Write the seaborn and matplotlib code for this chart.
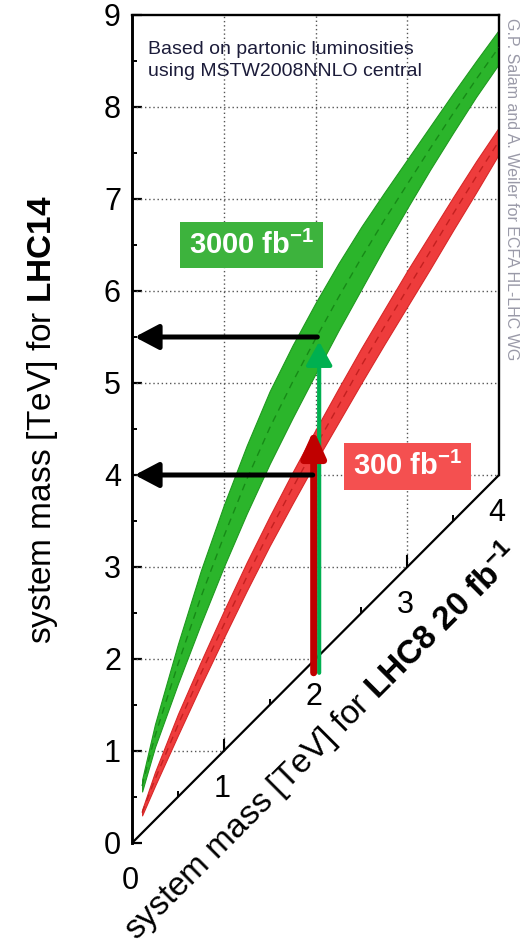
import numpy as np
import matplotlib
matplotlib.use("Agg")
import matplotlib.pyplot as plt
import seaborn as sns

# ---------------- data ----------------
m8 = [0.11, 0.25, 0.5, 0.75, 1.0, 1.25, 1.5, 1.75, 2.0, 2.25, 2.5, 2.75, 3.0, 3.25, 3.5, 3.75, 4.0]
green_upper   = [0.69, 1.29, 2.16, 2.96, 3.67, 4.32, 4.91, 5.41, 5.87, 6.30, 6.70, 7.07, 7.43, 7.79, 8.15, 8.50, 8.84]
green_lower   = [0.56, 1.04, 1.73, 2.38, 3.00, 3.58, 4.12, 4.62, 5.10, 5.57, 6.02, 6.47, 6.90, 7.32, 7.72, 8.11, 8.47]
green_central = [0.62, 1.16, 1.94, 2.67, 3.33, 3.95, 4.51, 5.01, 5.48, 5.93, 6.36, 6.77, 7.16, 7.55, 7.93, 8.30, 8.65]
red_upper     = [0.36, 0.77, 1.40, 1.97, 2.52, 3.05, 3.55, 4.03, 4.49, 4.94, 5.38, 5.80, 6.22, 6.62, 7.02, 7.41, 7.78]
red_lower     = [0.30, 0.62, 1.17, 1.71, 2.23, 2.74, 3.23, 3.69, 4.14, 4.57, 5.00, 5.42, 5.83, 6.24, 6.66, 7.07, 7.49]
red_central   = [0.33, 0.69, 1.28, 1.84, 2.37, 2.89, 3.39, 3.86, 4.31, 4.75, 5.19, 5.61, 6.02, 6.43, 6.84, 7.24, 7.63]

y_ticks = [0, 1, 2, 3, 4, 5, 6, 7, 8, 9]
x_ticks = [0, 1, 2, 3, 4]
grid_y = [1, 2, 3, 4, 5, 6, 7, 8]
grid_x = [1, 2, 3]
diag_major = [1, 2, 3]
diag_minor = [0.5, 1.5, 2.5, 3.5]

lhc8_ref = 2.0
reach_300 = 4.0
reach_3000 = 5.5

# ---------------- style ----------------
sns.set_theme(style="white")
plt.rcParams["font.family"] = ["Liberation Sans", "DejaVu Sans"]
plt.rcParams["mathtext.fontset"] = "custom"
plt.rcParams["mathtext.rm"] = "Liberation Sans"
plt.rcParams["mathtext.bf"] = "Liberation Sans:bold"
plt.rcParams["mathtext.it"] = "Liberation Sans:italic"
plt.rcParams["text.color"] = "black"
plt.rcParams["axes.labelcolor"] = "black"

fig = plt.figure(figsize=(5.28, 9.51), dpi=100)
ax = fig.add_axes([132 / 528, 108 / 951, 367 / 528, 828 / 951])
ax.set_xlim(0, 4)
ax.set_ylim(0, 9)

# grid (only above the diagonal)
gy = np.array(grid_y, dtype=float)
ax.hlines(gy, 0, np.minimum(gy, 4), colors="#555555", linestyles=(0, (1, 2)), lw=1.0, zorder=1)
gx = np.array(grid_x, dtype=float)
ax.vlines(gx, gx, 9, colors="#555555", linestyles=(0, (1, 2)), lw=1.0, zorder=1)

# bands
ax.fill_between(m8, green_lower, green_upper, facecolor="#2bb52b", edgecolor="#1f9a1f", lw=0.8, zorder=2)
ax.fill_between(m8, red_lower, red_upper, facecolor="#ee3c3c", edgecolor="#d82828", lw=0.8, zorder=2)
sns.lineplot(x=m8, y=green_central, ax=ax, color="#178a17", lw=1.0, linestyle=(0, (5, 4)), zorder=3)
sns.lineplot(x=m8, y=red_central, ax=ax, color="#c42020", lw=1.0, linestyle=(0, (5, 4)), zorder=3)

# spines
ax.spines["bottom"].set_visible(False)
ax.spines["right"].set_bounds(4, 9)
ax.spines["left"].set_linewidth(2.1)
ax.spines["top"].set_linewidth(1.7)
ax.spines["right"].set_linewidth(1.7)
for s in ["left", "top", "right"]:
    ax.spines[s].set_color("black")

# diagonal LHC8 axis
ax.plot([0, 4], [0, 4], color="black", lw=1.6, clip_on=False, zorder=5, solid_capstyle="butt")
dm = np.array(diag_major, dtype=float)
ax.vlines(dm, dm, dm + 0.13, colors="black", lw=1.5, zorder=5)
dn = np.array(diag_minor, dtype=float)
ax.vlines(dn, dn, dn + 0.06, colors="black", lw=1.4, zorder=5)
for v in x_ticks:
    ax.text(v - 0.02, v - 0.41, str(v), ha="center", va="center", fontsize=22, clip_on=False)

# y ticks
ax.set_xticks([])
ax.set_yticks(y_ticks)
ax.set_yticks(np.arange(0.5, 9, 1.0), minor=True)
ax.tick_params(axis="y", which="major", direction="in", length=7, width=1.6, labelsize=22,
               pad=8, left=True, right=False, colors="black")
ax.tick_params(axis="y", which="minor", direction="in", length=3.5, width=1.4, left=True, right=False,
               colors="black")

# axis labels
ax.set_ylabel(r"system mass [TeV] for $\mathbf{LHC14}$", fontsize=24)
ax.yaxis.set_label_coords(-0.245, 0.511)
ax.yaxis.label.set_verticalalignment("center")
ax.set_xlabel(r"system mass [TeV] for $\mathbf{LHC8\ 20\ fb^{-1}}$", fontsize=24, rotation=45)
ax.xaxis.set_label_coords(0.518, 0.122)
ax.xaxis.label.set_verticalalignment("center")
ax.xaxis.label.set_rotation_mode("anchor")

# arrows
ax.annotate("", xy=(lhc8_ref + 0.04, reach_3000 - 0.05), xytext=(lhc8_ref + 0.04, 1.85),
            arrowprops=dict(arrowstyle="-|>,head_width=0.4,head_length=0.72", color="#00b050",
                            lw=3.0, shrinkA=0, shrinkB=0, mutation_scale=20),
            zorder=6, annotation_clip=False)
ax.annotate("", xy=(lhc8_ref - 0.02, 4.49), xytext=(lhc8_ref - 0.02, 1.85),
            arrowprops=dict(arrowstyle="-|>,head_width=0.36,head_length=0.8", color="#c00000",
                            lw=5.0, shrinkA=0, shrinkB=0, mutation_scale=20),
            zorder=7, annotation_clip=False)
ax.annotate("", xy=(0.03, reach_3000), xytext=(lhc8_ref + 0.02, reach_3000),
            arrowprops=dict(arrowstyle="-|>,head_width=0.38,head_length=0.72", color="black",
                            lw=3.6, shrinkA=0, shrinkB=0, mutation_scale=20),
            zorder=8, annotation_clip=False)
ax.annotate("", xy=(0.03, reach_300), xytext=(lhc8_ref - 0.03, reach_300),
            arrowprops=dict(arrowstyle="-|>,head_width=0.38,head_length=0.72", color="black",
                            lw=3.6, shrinkA=0, shrinkB=0, mutation_scale=20),
            zorder=8, annotation_clip=False)

# luminosity labels
ax.text(1.30, 6.50, r"3000 fb$^{\mathbf{-1}}$", color="white", fontsize=21, fontweight="bold",
        ha="center", va="center", zorder=9,
        bbox=dict(boxstyle="square,pad=0.3", fc="#3db33d", ec="none"))
ax.text(3.00, 4.09, r"300 fb$^{\mathbf{-1}}$", color="white", fontsize=21, fontweight="bold",
        ha="center", va="center", zorder=9,
        bbox=dict(boxstyle="square,pad=0.3", fc="#f45050", ec="none"))

# notes
ax.text(0.17, 8.505, "Based on partonic luminosities\nusing MSTW2008NNLO central", fontsize=14,
        color="#1c1c3a", ha="left", va="center", linespacing=1.4, zorder=9)
ax.text(4.14, 8.97, "G.P. Salam and A. Weiler for ECFA HL-LHC WG", fontsize=11.5, color="#9a9aa8",
        rotation=270, ha="center", va="top", clip_on=False)

fig.savefig("out.png", dpi=100)
